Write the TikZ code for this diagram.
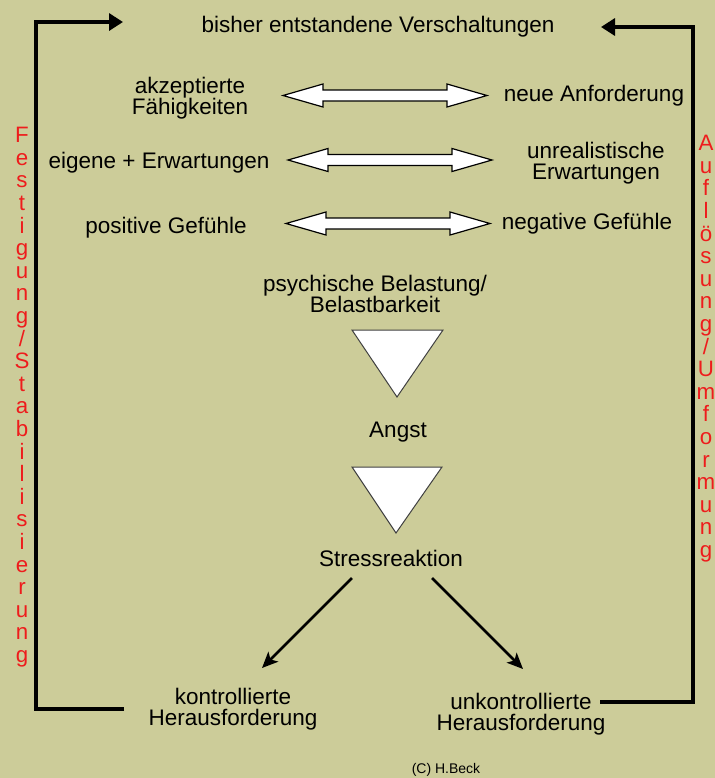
\documentclass[tikz,border=0pt]{standalone}
\usepackage{fontspec}
\setmainfont{Liberation Sans}
\usetikzlibrary{arrows.meta}
\definecolor{khaki}{RGB}{204,204,153}
\definecolor{loopred}{RGB}{238,28,28}

\begin{document}
\begin{tikzpicture}[x=0.5pt,y=-0.5pt]

  \tikzstyle{txt}=[font=\fontsize{11.25}{10.5}\selectfont,align=center,inner sep=0pt,anchor=north,text=black]
  \tikzstyle{redcol}=[txt,text=loopred,font=\fontsize{11.15}{11.3}\selectfont]
  \tikzstyle{loopline}=[line width=1.65pt,-{Triangle[length=7pt,width=8.5pt]}]
  \tikzstyle{stressarrow}=[line width=1.25pt,-{Stealth[length=8pt,width=7pt,inset=2pt]}]
  \tikzstyle{dblarrow}=[draw=black,line width=0.6pt,fill=white]
  \tikzstyle{tri}=[draw=black!75,line width=0.5pt,fill=white]

  \useasboundingbox (0,0) rectangle (715,778);
  \clip (0,0) rectangle (715,778);
  \fill[khaki] (0,0) rectangle (715,778);

  % top line
  \node[txt] (netz) at (378,16) {bisher entstandene Verschaltungen};

  % rows
  \node[txt] (faehig) at (190,77) {akzeptierte\\F\"ahigkeiten};
  \node[txt] (anford) at (594,85) {neue Anforderung};
  \node[txt] (eigene) at (159,152) {eigene + Erwartungen};
  \node[txt] (unreal) at (596,142) {unrealistische\\Erwartungen};
  \node[txt] (posgef) at (166,217) {positive Gef\"uhle};
  \node[txt] (neggef) at (587,213) {negative Gef\"uhle};

  \foreach \xa/\yy in {283/95.5, 288/160, 286/223.5}
    \draw[dblarrow] (\xa,\yy) -- ++(40,-11.5) -- ++(0,6) -- ++(124,0) -- ++(0,-6)
      -- ++(40,11.5) -- ++(-40,11.5) -- ++(0,-6) -- ++(-124,0) -- ++(0,6) -- cycle;

  % middle column
  \node[txt] (psych) at (375,275) {psychische Belastung/\\Belastbarkeit};
  \draw[tri] (352,330) -- (443,330) -- (397,397) -- cycle;
  \node[txt] (angst) at (398,422) {Angst};
  \draw[tri] (352,467) -- (442,467) -- (396,533) -- cycle;
  \node[txt] (stress) at (391,550) {Stressreaktion};

  \node[txt] (kontr) at (233,688) {kontrollierte\\Herausforderung};
  \node[txt] (unkontr) at (521,693) {unkontrollierte\\Herausforderung};

  \coordinate (stress-l) at (352,578);
  \coordinate (stress-r) at (432,578);
  \coordinate (kontr-in) at (262,668);
  \coordinate (unkontr-in) at (523,669);
  \draw[stressarrow] (stress-l) -- (kontr-in);
  \draw[stressarrow] (stress-r) -- (unkontr-in);

  % feedback loops
  \coordinate (kontr-out) at (124,709);
  \coordinate (netz-l) at (123,22);
  \coordinate (unkontr-out) at (600,702);
  \coordinate (netz-r) at (601,27);
  \draw[loopline] (kontr-out) -- ++(-88,0) |- (netz-l);
  \draw[loopline] (unkontr-out) -- ++(93,0) |- (netz-r);

  \node[redcol] (festig) at (22,127)
    {F\\e\\s\\t\\i\\g\\u\\n\\g\\/\\S\\t\\a\\b\\i\\l\\i\\s\\i\\e\\r\\u\\n\\g};
  \node[redcol] (aufl) at (706,135)
    {A\\u\\f\\l\\\"o\\s\\u\\n\\g\\/\\U\\m\\f\\o\\r\\m\\u\\n\\g};

  \node[txt,font=\fontsize{7}{7}\selectfont] (copy) at (446,763) {(C) H.Beck};

\end{tikzpicture}
\end{document}
